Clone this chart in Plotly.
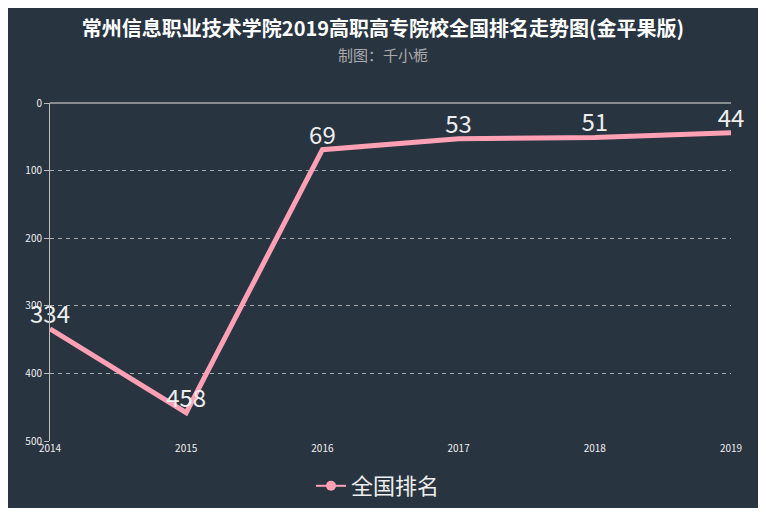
import plotly.graph_objects as go

# data
years = ["2014", "2015", "2016", "2017", "2018", "2019"]
ranks = [334, 458, 69, 53, 51, 44]
series_name = "全国排名"
y_ticks = [0, 100, 200, 300, 400, 500]

title_text = "常州信息职业技术学院2019高职高专院校全国排名走势图(金平果版)"
subtitle_text = "制图：千小栀"

bg = "#293441"
pink = "#ffa0b5"
font_family = "Noto Sans CJK SC"

# page has ~8px body margin, so the figure is a bit smaller than the window
W, H = 758, 506
L, R, T, B = 42, 35, 95, 73
pw, ph = W - L - R, H - T - B

fig = go.Figure()

fig.add_trace(go.Scatter(
    x=years, y=ranks,
    mode="lines+text",
    text=[str(v) for v in ranks],
    textposition="top center",
    textfont=dict(size=24, color="#eeeeee", family=font_family),
    line=dict(color=pink, width=5),
    cliponaxis=False,
    showlegend=False,
    name=series_name,
))

# legend-only entry (line + circle symbol)
fig.add_trace(go.Scatter(
    x=[None], y=[None],
    mode="lines+markers",
    line=dict(color=pink, width=2),
    marker=dict(color=pink, size=10),
    name=series_name,
))

fig.update_layout(
    width=W, height=H,
    margin=dict(l=L, r=R, t=T, b=B, autoexpand=False),
    paper_bgcolor="white",
    plot_bgcolor=bg,
    font=dict(family=font_family, color="#eeeeee"),
    title=dict(
        text="<b>" + title_text + "</b>",
        x=(375 - 0) / W, xref="container", xanchor="center",
        y=1 - 21 / H, yref="container", yanchor="middle",
        font=dict(size=20, color="#ffffff", family=font_family),
    ),
    legend=dict(
        orientation="h",
        x=(303 - L) / pw, xanchor="left",
        y=-45 / ph, yanchor="middle",
        font=dict(size=22, color="#eeeeee", family=font_family),
        bgcolor="rgba(0,0,0,0)",
        itemwidth=30,
    ),
    xaxis=dict(
        type="category",
        range=[0, len(years) - 1],
        showgrid=False,
        zeroline=False,
        showline=False,
        ticks="",
        tickfont=dict(size=10, color="#eeeeee"),
    ),
    yaxis=dict(
        range=[500, 0],
        tickvals=y_ticks,
        showgrid=True,
        gridcolor="rgba(220,220,220,0.7)",
        griddash="4px,4px",
        gridwidth=1,
        zeroline=False,
        showline=True,
        linecolor="#bbbbbb",
        linewidth=1,
        ticks="outside",
        ticklen=5,
        tickcolor="#bbbbbb",
        tickfont=dict(size=10, color="#eeeeee"),
    ),
    shapes=[
        # dark panel (white strip right and bottom like the screenshot)
        dict(type="rect", xref="paper", yref="paper", layer="below",
             x0=-L / pw, x1=(755 - L) / pw,
             y0=-(500 - (T + ph)) / ph, y1=1 + T / ph,
             fillcolor=bg, line=dict(width=0)),
        # top axis line
        dict(type="line", xref="paper", yref="paper",
             x0=0, x1=1, y0=1, y1=1,
             line=dict(color="#aaaaaa", width=1.5)),
    ],
    annotations=[
        dict(text=subtitle_text, xref="paper", yref="paper",
             x=(375 - L) / pw, y=1 + (T - 47) / ph,
             xanchor="center", yanchor="middle", showarrow=False,
             font=dict(size=15, color="#aaaaaa", family=font_family)),
    ],
)

fig.write_html("out.html")
